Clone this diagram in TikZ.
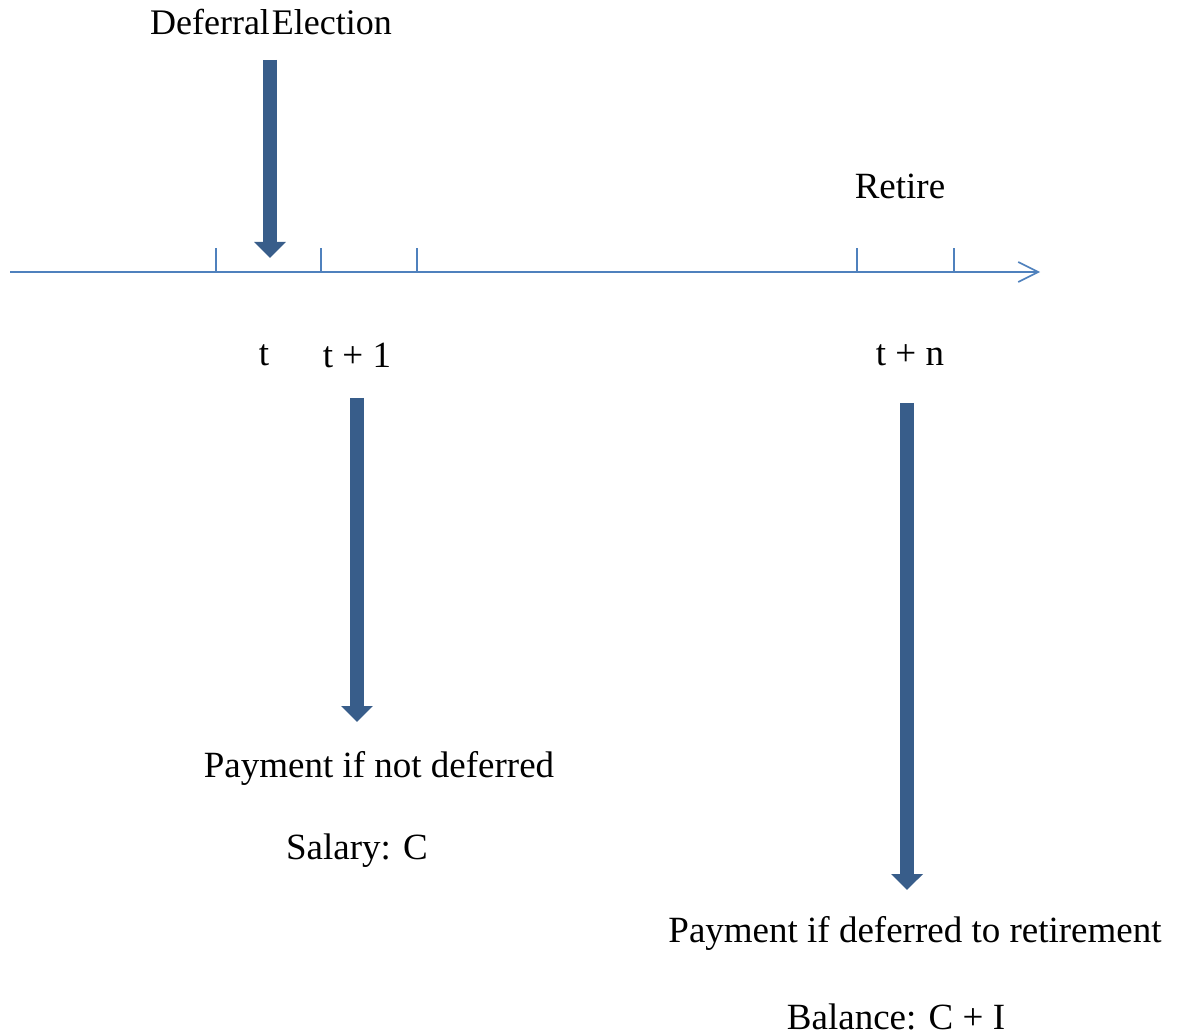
\documentclass[tikz,border=0pt]{standalone}
\usepackage{fontspec}
\setmainfont{Liberation Serif}
\usetikzlibrary{arrows.meta}
\definecolor{axisblue}{RGB}{79,129,189}
\definecolor{darkblue}{RGB}{56,93,138}
\begin{document}
\begin{tikzpicture}[x=0.5pt,y=-0.5pt,
  axisline/.style={draw=axisblue,line width=0.8pt},
  tickline/.style={draw=axisblue,line width=0.8pt},
  bigarrow/.style={draw=darkblue,line width=7pt,-{Triangle[width=15.5pt,length=8pt]}},
  lbl/.style={inner sep=0pt,font=\fontsize{18.5}{21}\selectfont}]
\useasboundingbox (0,0) rectangle (1181,1036);
% axis
\coordinate (axL) at (10,272);
\coordinate (axR) at (1040,272);
\draw[axisline,-{Straight Barb[length=10pt,width=10pt,line width=0.8pt]}] (axL) -- (axR);
% ticks
\foreach \x/\n in {216/a,321/b,417/c,857/d,954/e}{
  \coordinate (tk\n) at (\x,272);
  \coordinate (tt\n) at (\x,248);
  \draw[tickline] (tk\n) -- (tt\n);
}
% labels
\node[lbl,font=\fontsize{18}{21}\selectfont] (defel) at (271,22) {Deferral\kern1pt Election};
\node[lbl] (retire) at (900,186) {Retire};
\node[lbl] (lt) at (264,355) {t};
\node[lbl] (lt1) at (357,355) {t + 1};
\node[lbl] (ltn) at (910,355) {t + n};
\node[lbl] (pnd) at (379,768) {Payment if not deferred};
\node[lbl] (sal) at (357,851) {Salary: C};
\node[lbl] (pdr) at (915,933) {Payment if deferred to retirement};
\node[lbl] (bal) at (896,1017) {Balance: C + I};
% big arrows
\coordinate (a1s) at (270,60);
\coordinate (a1e) at (270,258);
\coordinate (a2s) at (357,398);
\coordinate (a2e) at (357,722);
\coordinate (a3s) at (907,403);
\coordinate (a3e) at (907,890);
\draw[bigarrow] (a1s) -- (a1e);
\draw[bigarrow] (a2s) -- (a2e);
\draw[bigarrow] (a3s) -- (a3e);
\end{tikzpicture}
\end{document}
